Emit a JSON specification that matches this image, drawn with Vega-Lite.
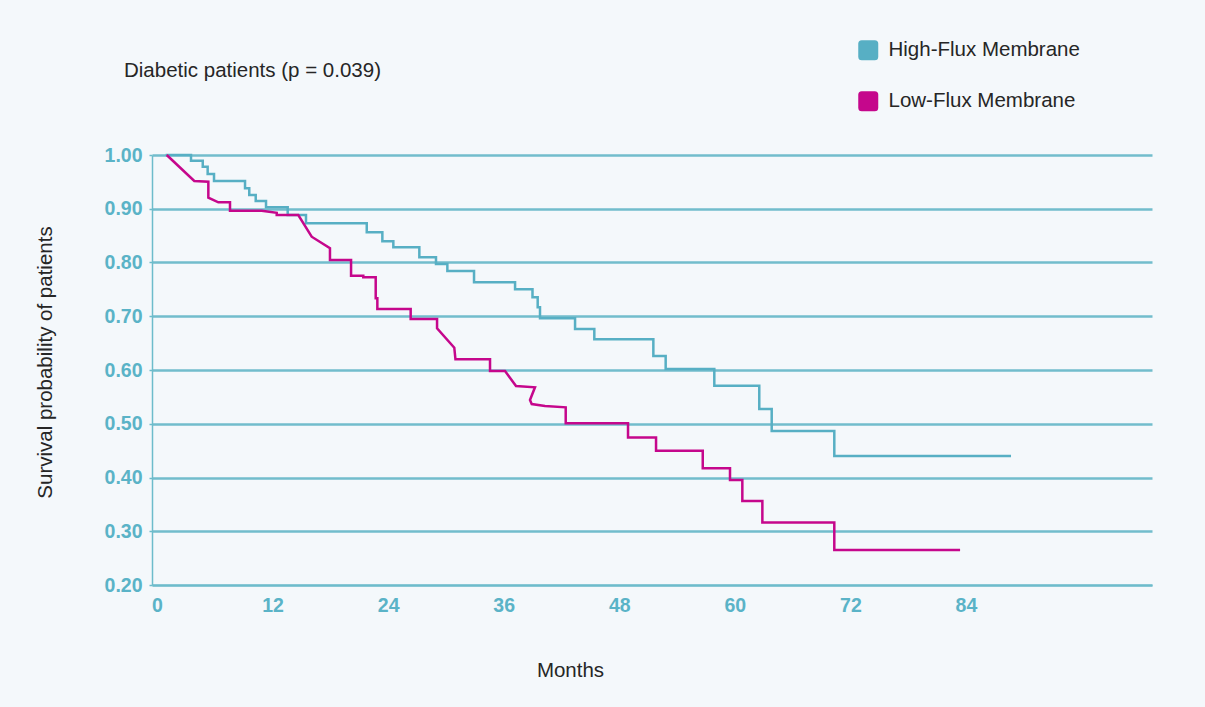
{
  "$schema": "https://vega.github.io/schema/vega-lite/v6.json",
  "width": 1000,
  "height": 430,
  "autosize": {"type": "none"},
  "padding": {"left": 152, "top": 155, "right": 53, "bottom": 122},
  "background": "#f4f8fb",
  "config": {
    "view": {"stroke": null},
    "font": "Liberation Sans"
  },
  "title": {
    "text": "Diabetic patients (p = 0.039)",
    "anchor": "start",
    "frame": "group",
    "dx": -28,
    "offset": -57,
    "baseline": "alphabetic",
    "fontSize": 20.5,
    "fontWeight": "normal",
    "color": "#262626",
    "font": "Liberation Sans"
  },
  "data": {
    "values": [
      {"group": "High-Flux Membrane", "i": 1, "month": 0.9, "surv": 1.0},
      {"group": "High-Flux Membrane", "i": 2, "month": 3.53, "surv": 1.0},
      {"group": "High-Flux Membrane", "i": 3, "month": 3.53, "surv": 0.9894},
      {"group": "High-Flux Membrane", "i": 4, "month": 4.75, "surv": 0.9894},
      {"group": "High-Flux Membrane", "i": 5, "month": 4.75, "surv": 0.9782},
      {"group": "High-Flux Membrane", "i": 6, "month": 5.26, "surv": 0.9782},
      {"group": "High-Flux Membrane", "i": 7, "month": 5.26, "surv": 0.9647},
      {"group": "High-Flux Membrane", "i": 8, "month": 5.92, "surv": 0.9647},
      {"group": "High-Flux Membrane", "i": 9, "month": 5.92, "surv": 0.9516},
      {"group": "High-Flux Membrane", "i": 10, "month": 9.14, "surv": 0.9516},
      {"group": "High-Flux Membrane", "i": 11, "month": 9.14, "surv": 0.938},
      {"group": "High-Flux Membrane", "i": 12, "month": 9.58, "surv": 0.938},
      {"group": "High-Flux Membrane", "i": 13, "month": 9.58, "surv": 0.9256},
      {"group": "High-Flux Membrane", "i": 14, "month": 10.25, "surv": 0.9256},
      {"group": "High-Flux Membrane", "i": 15, "month": 10.25, "surv": 0.9144},
      {"group": "High-Flux Membrane", "i": 16, "month": 11.32, "surv": 0.9144},
      {"group": "High-Flux Membrane", "i": 17, "month": 11.32, "surv": 0.9027},
      {"group": "High-Flux Membrane", "i": 18, "month": 13.57, "surv": 0.9027},
      {"group": "High-Flux Membrane", "i": 19, "month": 13.57, "surv": 0.8884},
      {"group": "High-Flux Membrane", "i": 20, "month": 15.47, "surv": 0.8884},
      {"group": "High-Flux Membrane", "i": 21, "month": 15.47, "surv": 0.8729},
      {"group": "High-Flux Membrane", "i": 22, "month": 21.78, "surv": 0.8729},
      {"group": "High-Flux Membrane", "i": 23, "month": 21.78, "surv": 0.8562},
      {"group": "High-Flux Membrane", "i": 24, "month": 23.4, "surv": 0.8562},
      {"group": "High-Flux Membrane", "i": 25, "month": 23.4, "surv": 0.8394},
      {"group": "High-Flux Membrane", "i": 26, "month": 24.54, "surv": 0.8394},
      {"group": "High-Flux Membrane", "i": 27, "month": 24.54, "surv": 0.8283},
      {"group": "High-Flux Membrane", "i": 28, "month": 27.24, "surv": 0.8283},
      {"group": "High-Flux Membrane", "i": 29, "month": 27.24, "surv": 0.8097},
      {"group": "High-Flux Membrane", "i": 30, "month": 28.97, "surv": 0.8097},
      {"group": "High-Flux Membrane", "i": 31, "month": 28.97, "surv": 0.7972},
      {"group": "High-Flux Membrane", "i": 32, "month": 30.15, "surv": 0.7972},
      {"group": "High-Flux Membrane", "i": 33, "month": 30.15, "surv": 0.7842},
      {"group": "High-Flux Membrane", "i": 34, "month": 32.92, "surv": 0.7842},
      {"group": "High-Flux Membrane", "i": 35, "month": 32.92, "surv": 0.7632},
      {"group": "High-Flux Membrane", "i": 36, "month": 37.18, "surv": 0.7632},
      {"group": "High-Flux Membrane", "i": 37, "month": 37.18, "surv": 0.7501},
      {"group": "High-Flux Membrane", "i": 38, "month": 38.99, "surv": 0.7501},
      {"group": "High-Flux Membrane", "i": 39, "month": 38.99, "surv": 0.7353},
      {"group": "High-Flux Membrane", "i": 40, "month": 39.53, "surv": 0.7353},
      {"group": "High-Flux Membrane", "i": 41, "month": 39.53, "surv": 0.7166},
      {"group": "High-Flux Membrane", "i": 42, "month": 39.77, "surv": 0.7166},
      {"group": "High-Flux Membrane", "i": 43, "month": 39.77, "surv": 0.6962},
      {"group": "High-Flux Membrane", "i": 44, "month": 43.41, "surv": 0.6962},
      {"group": "High-Flux Membrane", "i": 45, "month": 43.41, "surv": 0.6763},
      {"group": "High-Flux Membrane", "i": 46, "month": 45.41, "surv": 0.6763},
      {"group": "High-Flux Membrane", "i": 47, "month": 45.41, "surv": 0.6571},
      {"group": "High-Flux Membrane", "i": 48, "month": 51.54, "surv": 0.6571},
      {"group": "High-Flux Membrane", "i": 49, "month": 51.54, "surv": 0.626},
      {"group": "High-Flux Membrane", "i": 50, "month": 52.82, "surv": 0.626},
      {"group": "High-Flux Membrane", "i": 51, "month": 52.82, "surv": 0.6019},
      {"group": "High-Flux Membrane", "i": 52, "month": 57.87, "surv": 0.6019},
      {"group": "High-Flux Membrane", "i": 53, "month": 57.87, "surv": 0.5708},
      {"group": "High-Flux Membrane", "i": 54, "month": 62.54, "surv": 0.5708},
      {"group": "High-Flux Membrane", "i": 55, "month": 62.54, "surv": 0.5274},
      {"group": "High-Flux Membrane", "i": 56, "month": 63.83, "surv": 0.5274},
      {"group": "High-Flux Membrane", "i": 57, "month": 63.83, "surv": 0.4865},
      {"group": "High-Flux Membrane", "i": 58, "month": 70.33, "surv": 0.4865},
      {"group": "High-Flux Membrane", "i": 59, "month": 70.33, "surv": 0.44},
      {"group": "High-Flux Membrane", "i": 60, "month": 88.68, "surv": 0.44},
      {"group": "Low-Flux Membrane", "i": 1, "month": 1.01, "surv": 1.0},
      {"group": "Low-Flux Membrane", "i": 2, "month": 3.87, "surv": 0.9516},
      {"group": "Low-Flux Membrane", "i": 3, "month": 5.33, "surv": 0.9503},
      {"group": "Low-Flux Membrane", "i": 4, "month": 5.33, "surv": 0.9206},
      {"group": "Low-Flux Membrane", "i": 5, "month": 6.37, "surv": 0.912},
      {"group": "Low-Flux Membrane", "i": 6, "month": 7.58, "surv": 0.912},
      {"group": "Low-Flux Membrane", "i": 7, "month": 7.58, "surv": 0.8964},
      {"group": "Low-Flux Membrane", "i": 8, "month": 10.87, "surv": 0.8964},
      {"group": "Low-Flux Membrane", "i": 9, "month": 12.43, "surv": 0.8926},
      {"group": "Low-Flux Membrane", "i": 10, "month": 12.43, "surv": 0.8884},
      {"group": "Low-Flux Membrane", "i": 11, "month": 14.67, "surv": 0.8884},
      {"group": "Low-Flux Membrane", "i": 12, "month": 16.06, "surv": 0.848},
      {"group": "Low-Flux Membrane", "i": 13, "month": 17.96, "surv": 0.8264},
      {"group": "Low-Flux Membrane", "i": 14, "month": 17.96, "surv": 0.8047},
      {"group": "Low-Flux Membrane", "i": 15, "month": 20.15, "surv": 0.8047},
      {"group": "Low-Flux Membrane", "i": 16, "month": 20.15, "surv": 0.7755},
      {"group": "Low-Flux Membrane", "i": 17, "month": 21.42, "surv": 0.7755},
      {"group": "Low-Flux Membrane", "i": 18, "month": 21.42, "surv": 0.7725},
      {"group": "Low-Flux Membrane", "i": 19, "month": 22.71, "surv": 0.7725},
      {"group": "Low-Flux Membrane", "i": 20, "month": 22.71, "surv": 0.7334},
      {"group": "Low-Flux Membrane", "i": 21, "month": 22.88, "surv": 0.7334},
      {"group": "Low-Flux Membrane", "i": 22, "month": 22.88, "surv": 0.7135},
      {"group": "Low-Flux Membrane", "i": 23, "month": 26.34, "surv": 0.7135},
      {"group": "Low-Flux Membrane", "i": 24, "month": 26.34, "surv": 0.6949},
      {"group": "Low-Flux Membrane", "i": 25, "month": 29.08, "surv": 0.6949},
      {"group": "Low-Flux Membrane", "i": 26, "month": 29.08, "surv": 0.6776},
      {"group": "Low-Flux Membrane", "i": 27, "month": 30.87, "surv": 0.6415},
      {"group": "Low-Flux Membrane", "i": 28, "month": 30.99, "surv": 0.6199},
      {"group": "Low-Flux Membrane", "i": 29, "month": 34.58, "surv": 0.6199},
      {"group": "Low-Flux Membrane", "i": 30, "month": 34.58, "surv": 0.5981},
      {"group": "Low-Flux Membrane", "i": 31, "month": 36.14, "surv": 0.5981},
      {"group": "Low-Flux Membrane", "i": 32, "month": 37.28, "surv": 0.5702},
      {"group": "Low-Flux Membrane", "i": 33, "month": 39.25, "surv": 0.5678},
      {"group": "Low-Flux Membrane", "i": 34, "month": 38.73, "surv": 0.5442},
      {"group": "Low-Flux Membrane", "i": 35, "month": 38.91, "surv": 0.5367},
      {"group": "Low-Flux Membrane", "i": 36, "month": 40.29, "surv": 0.533},
      {"group": "Low-Flux Membrane", "i": 37, "month": 42.44, "surv": 0.5306},
      {"group": "Low-Flux Membrane", "i": 38, "month": 42.44, "surv": 0.5008},
      {"group": "Low-Flux Membrane", "i": 39, "month": 48.91, "surv": 0.5008},
      {"group": "Low-Flux Membrane", "i": 40, "month": 48.91, "surv": 0.4744},
      {"group": "Low-Flux Membrane", "i": 41, "month": 51.82, "surv": 0.4744},
      {"group": "Low-Flux Membrane", "i": 42, "month": 51.82, "surv": 0.4498},
      {"group": "Low-Flux Membrane", "i": 43, "month": 56.67, "surv": 0.4498},
      {"group": "Low-Flux Membrane", "i": 44, "month": 56.67, "surv": 0.4171},
      {"group": "Low-Flux Membrane", "i": 45, "month": 59.5, "surv": 0.4171},
      {"group": "Low-Flux Membrane", "i": 46, "month": 59.5, "surv": 0.3953},
      {"group": "Low-Flux Membrane", "i": 47, "month": 60.78, "surv": 0.3953},
      {"group": "Low-Flux Membrane", "i": 48, "month": 60.78, "surv": 0.3563},
      {"group": "Low-Flux Membrane", "i": 49, "month": 62.86, "surv": 0.3563},
      {"group": "Low-Flux Membrane", "i": 50, "month": 62.86, "surv": 0.3163},
      {"group": "Low-Flux Membrane", "i": 51, "month": 70.33, "surv": 0.3163},
      {"group": "Low-Flux Membrane", "i": 52, "month": 70.33, "surv": 0.2651},
      {"group": "Low-Flux Membrane", "i": 53, "month": 83.39, "surv": 0.2651}
    ]
  },
  "mark": {"type": "line", "strokeWidth": 2.5, "strokeJoin": "miter", "clip": false},
  "encoding": {
    "x": {
      "field": "month",
      "type": "quantitative",
      "scale": {"domain": [-0.52, 103.32], "nice": false, "zero": false},
      "axis": {
        "values": [0, 12, 24, 36, 48, 60, 72, 84],
        "grid": false,
        "ticks": false,
        "domain": true,
        "domainColor": "#6dbccb",
        "domainWidth": 1.5,
        "labelFontSize": 19.5,
        "labelFontWeight": "bold",
        "labelColor": "#5ab3c7",
        "labelPadding": 11,
        "labelFont": "Liberation Sans",
        "title": "Months",
        "titleFontSize": 20.5,
        "titleFontWeight": "normal",
        "titleColor": "#262626",
        "titleFont": "Liberation Sans",
        "titleX": 418,
        "titleY": 85,
        "titleAlign": "center",
        "titleBaseline": "middle"
      }
    },
    "y": {
      "field": "surv",
      "type": "quantitative",
      "scale": {"domain": [0.2, 1.0], "nice": false, "zero": false},
      "axis": {
        "values": [0.2, 0.3, 0.4, 0.5, 0.6, 0.7, 0.8, 0.9, 1.0],
        "format": ".2f",
        "grid": true,
        "gridColor": "#72bdcc",
        "gridWidth": 2.5,
        "ticks": true,
        "tickSize": 3,
        "tickColor": "#6dbccb",
        "tickWidth": 1.5,
        "domain": true,
        "domainColor": "#6dbccb",
        "domainWidth": 1.5,
        "labelFontSize": 19.5,
        "labelFontWeight": "bold",
        "labelColor": "#5ab3c7",
        "labelPadding": 7,
        "labelFont": "Liberation Sans",
        "title": "Survival probability of patients",
        "titleFontSize": 20.5,
        "titleFontWeight": "normal",
        "titleColor": "#262626",
        "titleFont": "Liberation Sans",
        "titleAngle": -90,
        "titleX": -107,
        "titleY": 207,
        "titleAlign": "center",
        "titleBaseline": "middle"
      }
    },
    "color": {
      "field": "group",
      "type": "nominal",
      "scale": {"domain": ["High-Flux Membrane", "Low-Flux Membrane"], "range": ["#57afc4", "#c5078c"]},
      "legend": {
        "title": null,
        "orient": "none",
        "legendX": 706,
        "legendY": -115,
        "symbolType": "M -0.65 -1 L 0.65 -1 Q 1 -1 1 -0.65 L 1 0.65 Q 1 1 0.65 1 L -0.65 1 Q -1 1 -1 0.65 L -1 -0.65 Q -1 -1 -0.65 -1 Z",
        "symbolSize": 400,
        "symbolStrokeWidth": 0,
        "labelFontSize": 20.5,
        "labelColor": "#262626",
        "labelFont": "Liberation Sans",
        "labelOffset": 10,
        "labelLimit": 400,
        "rowPadding": 30,
        "padding": 0,
        "encode": {
          "symbols": {
            "update": {
              "fill": {"scale": "color", "field": "value"},
              "stroke": {"value": "transparent"}
            }
          }
        }
      }
    },
    "order": {"field": "i", "type": "quantitative"}
  }
}
